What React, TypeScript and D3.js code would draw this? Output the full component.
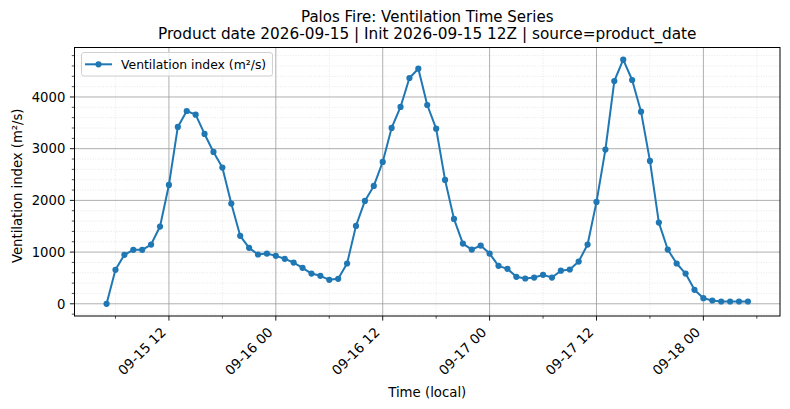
import React from "react";
import * as d3 from "d3";

const times: string[] = [
  "2026-09-15T05","2026-09-15T06","2026-09-15T07","2026-09-15T08","2026-09-15T09","2026-09-15T10","2026-09-15T11","2026-09-15T12",
  "2026-09-15T13","2026-09-15T14","2026-09-15T15","2026-09-15T16","2026-09-15T17","2026-09-15T18","2026-09-15T19","2026-09-15T20",
  "2026-09-15T21","2026-09-15T22","2026-09-15T23",
  "2026-09-16T00","2026-09-16T01","2026-09-16T02","2026-09-16T03","2026-09-16T04","2026-09-16T05","2026-09-16T06","2026-09-16T07",
  "2026-09-16T08","2026-09-16T09","2026-09-16T10","2026-09-16T11","2026-09-16T12","2026-09-16T13","2026-09-16T14","2026-09-16T15",
  "2026-09-16T16","2026-09-16T17","2026-09-16T18","2026-09-16T19","2026-09-16T20","2026-09-16T21","2026-09-16T22","2026-09-16T23",
  "2026-09-17T00","2026-09-17T01","2026-09-17T02","2026-09-17T03","2026-09-17T04","2026-09-17T05","2026-09-17T06","2026-09-17T07",
  "2026-09-17T08","2026-09-17T09","2026-09-17T10","2026-09-17T11","2026-09-17T12","2026-09-17T13","2026-09-17T14","2026-09-17T15",
  "2026-09-17T16","2026-09-17T17","2026-09-17T18","2026-09-17T19","2026-09-17T20","2026-09-17T21","2026-09-17T22","2026-09-17T23",
  "2026-09-18T00","2026-09-18T01","2026-09-18T02","2026-09-18T03","2026-09-18T04","2026-09-18T05",
];

const ventilation: number[] = [
  0, 657, 947, 1043, 1043, 1146, 1494, 2299, 3420, 3729, 3658, 3285, 2937, 2634, 1938, 1314, 1082, 953, 972,
  927, 870, 798, 696, 585, 541, 464, 483, 779, 1507, 1990, 2280, 2744, 3401, 3807, 4367, 4547, 3845, 3387, 2396, 1642, 1165, 1049, 1127,
  972, 734, 676, 522, 489, 508, 560, 508, 640, 663, 817, 1146, 1971, 2982, 4309, 4721, 4328, 3716, 2763, 1571, 1049, 779, 585, 271,
  108, 64, 44, 44, 44, 44,
];

const yTicks: number[] = [0, 1000, 2000, 3000, 4000];
const titleLine1 = "Palos Fire: Ventilation Time Series";
const titleLine2 = "Product date 2026-09-15 | Init 2026-09-15 12Z | source=product_date";
const xLabel = "Time (local)";
const yLabel = "Ventilation index (m²/s)";
const seriesLabel = "Ventilation index (m²/s)";

const W = 790, H = 409;
const L = 74.5, R = 780, T = 47.5, B = 316;
const FONT = "DejaVu Sans";
const BLUE = "#1f77b4";

const parse = d3.utcParse("%Y-%m-%dT%H");
const fmt = d3.utcFormat("%m-%d %H");

export default function App() {
  const dates = times.map((t) => parse(t) as Date);
  const t0 = dates[0].getTime(), t1 = dates[dates.length - 1].getTime();
  const tp = (t1 - t0) * 0.05;
  const x = d3.scaleUtc().domain([new Date(t0 - tp), new Date(t1 + tp)]).range([L, R]);
  const [vmin, vmax] = d3.extent(ventilation) as [number, number];
  const vp = (vmax - vmin) * 0.05;
  const y = d3.scaleLinear().domain([vmin - vp, vmax + vp]).range([B, T]);

  const xMajor = x.ticks(d3.utcHour.every(12) as any);
  const xMinor = x.ticks(d3.utcHour.every(6) as any).filter((d) => d.getUTCHours() % 12 !== 0);
  const yMinor = d3.range(-200, 5000, 200).filter((v) => v >= y.domain()[0] && v <= y.domain()[1] && v % 1000 !== 0);

  const line = d3.line<number>().x((_, i) => x(dates[i])).y((v) => y(v));

  const tickLen = 4.6, minorLen = 2.7, pad = 4.6;

  return (
    <svg width={W} height={H} style={{ position: "absolute", left: 0, top: 0, background: "#fff" }} fontFamily={FONT}>
      <rect x={0} y={0} width={W} height={H} fill="#fff" />
      {/* minor grid */}
      {yMinor.map((v) => (
        <line key={"ym" + v} x1={L} x2={R} y1={y(v)} y2={y(v)} stroke="#d8d8d8" strokeWidth={0.6} strokeDasharray="1,1.6" />
      ))}
      {xMinor.map((d) => (
        <line key={"xm" + d.getTime()} x1={x(d)} x2={x(d)} y1={T} y2={B} stroke="#d8d8d8" strokeWidth={0.6} strokeDasharray="1,1.6" />
      ))}
      {/* major grid */}
      {yTicks.map((v) => (
        <line key={"yg" + v} x1={L} x2={R} y1={y(v)} y2={y(v)} stroke="#9a9a9a" strokeWidth={0.8} />
      ))}
      {xMajor.map((d) => (
        <line key={"xg" + d.getTime()} x1={x(d)} x2={x(d)} y1={T} y2={B} stroke="#9a9a9a" strokeWidth={0.8} />
      ))}
      {/* series */}
      <path d={line(ventilation) || ""} fill="none" stroke={BLUE} strokeWidth={2} strokeLinejoin="round" />
      {ventilation.map((v, i) => (
        <circle key={"p" + i} cx={x(dates[i])} cy={y(v)} r={3.1} fill={BLUE} />
      ))}
      {/* spines */}
      <rect x={L} y={T} width={R - L} height={B - T} fill="none" stroke="#000" strokeWidth={1} />
      {/* y ticks */}
      {yTicks.map((v) => (
        <g key={"yt" + v}>
          <line x1={L - tickLen} x2={L} y1={y(v)} y2={y(v)} stroke="#000" strokeWidth={0.9} />
          <text x={L - tickLen - pad} y={y(v)} dy="0.36em" textAnchor="end" fontSize={13.2} fill="#000">{v}</text>
        </g>
      ))}
      {yMinor.map((v) => (
        <line key={"ymt" + v} x1={L - minorLen} x2={L} y1={y(v)} y2={y(v)} stroke="#000" strokeWidth={0.7} />
      ))}
      {/* x ticks */}
      {xMajor.map((d) => {
        const tx = x(d);
        const ex = tx - 2.2, ey = B + tickLen + pad + 8;
        return (
          <g key={"xt" + d.getTime()}>
            <line x1={tx} x2={tx} y1={B} y2={B + tickLen} stroke="#000" strokeWidth={0.9} />
            <text x={ex} y={ey} textAnchor="end" fontSize={13.5} fill="#000" transform={`rotate(-45, ${ex}, ${ey})`}>{fmt(d)}</text>
          </g>
        );
      })}
      {xMinor.map((d) => (
        <line key={"xmt" + d.getTime()} x1={x(d)} x2={x(d)} y1={B} y2={B + minorLen} stroke="#000" strokeWidth={0.7} />
      ))}
      {/* labels */}
      <text x={(L + R) / 2} y={396.5} textAnchor="middle" fontSize={13.3} fill="#000">{xLabel}</text>
      <text transform={`translate(22, ${(T + B) / 2 + 4}) rotate(-90)`} textAnchor="middle" fontSize={13.2} fill="#000">{yLabel}</text>
      <text x={(L + R) / 2} y={21.5} textAnchor="middle" fontSize={15} fill="#000">{titleLine1}</text>
      <text x={(L + R) / 2} y={39.2} textAnchor="middle" fontSize={15.3} fill="#000">{titleLine2}</text>
      {/* legend */}
      <rect x={81.5} y={52.5} width={191} height={23.5} rx={2.5} fill="#fff" fillOpacity={0.8} stroke="#cccccc" strokeWidth={0.9} />
      <line x1={85} x2={112} y1={64.3} y2={64.3} stroke={BLUE} strokeWidth={2} />
      <circle cx={98.5} cy={64.3} r={3.1} fill={BLUE} />
      <text x={121} y={68.8} fontSize={12.4} fill="#000">{seriesLabel}</text>
    </svg>
  );
}
